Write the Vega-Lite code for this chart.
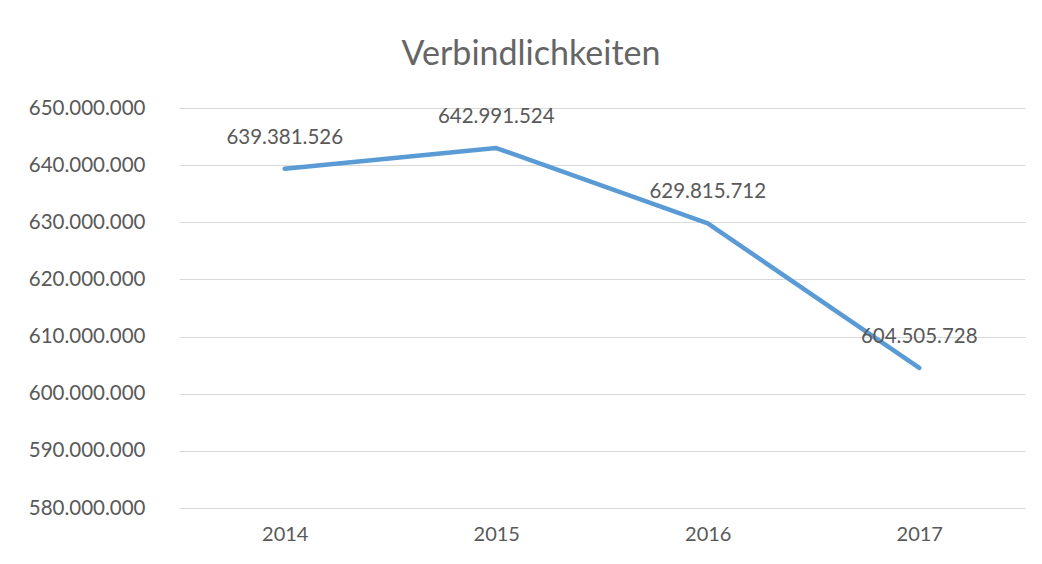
{
  "$schema": "https://vega.github.io/schema/vega-lite/v6.json",
  "width": 846,
  "height": 400,
  "autosize": {"type": "none"},
  "padding": {"left": 179, "top": 108, "right": 17, "bottom": 56},
  "background": "white",
  "config": {
    "locale": {"number": {"decimal": ",", "thousands": ".", "grouping": [3], "currency": ["", " €"]}},
    "view": {"stroke": null},
    "font": "Lato"
  },
  "title": {
    "text": "Verbindlichkeiten",
    "anchor": "middle",
    "dx": -71,
    "offset": 26,
    "fontSize": 34,
    "fontWeight": "normal",
    "font": "Lato",
    "color": "#656565"
  },
  "data": {
    "values": [
      {"Jahr": "2014", "Wert": 639381526},
      {"Jahr": "2015", "Wert": 642991524},
      {"Jahr": "2016", "Wert": 629815712},
      {"Jahr": "2017", "Wert": 604505728}
    ]
  },
  "encoding": {
    "x": {
      "field": "Jahr", "type": "ordinal",
      "scale": {"type": "point", "padding": 0.5},
      "axis": {
        "title": null, "labelAngle": 0, "ticks": false, "domain": true,
        "domainColor": "#D9D9D9", "domainWidth": 1, "grid": false,
        "labelFontSize": 20, "labelColor": "#595959", "labelPadding": 16, "labelFont": "Lato"
      }
    },
    "y": {
      "field": "Wert", "type": "quantitative",
      "scale": {"domain": [580000000, 650000000], "zero": false, "nice": false},
      "axis": {
        "title": null, "format": ",d", "values": [580000000, 590000000, 600000000, 610000000, 620000000, 630000000, 640000000, 650000000],
        "labelOverlap": false, "labelBound": false,
        "domain": false, "ticks": false, "grid": true, "gridColor": "#D9D9D9", "gridWidth": 1,
        "labelFontSize": 20.5, "labelColor": "#595959", "labelPadding": 34, "labelFont": "Lato"
      }
    }
  },
  "layer": [
    {
      "mark": {"type": "line", "color": "#5B9BD5", "strokeWidth": 4.5, "strokeCap": "round", "strokeJoin": "round"}
    },
    {
      "mark": {"type": "text", "dy": -31, "fontSize": 20.5, "color": "#595959", "font": "Lato", "baseline": "middle"},
      "encoding": {"text": {"field": "Wert", "type": "quantitative", "format": ",d"}}
    }
  ]
}
